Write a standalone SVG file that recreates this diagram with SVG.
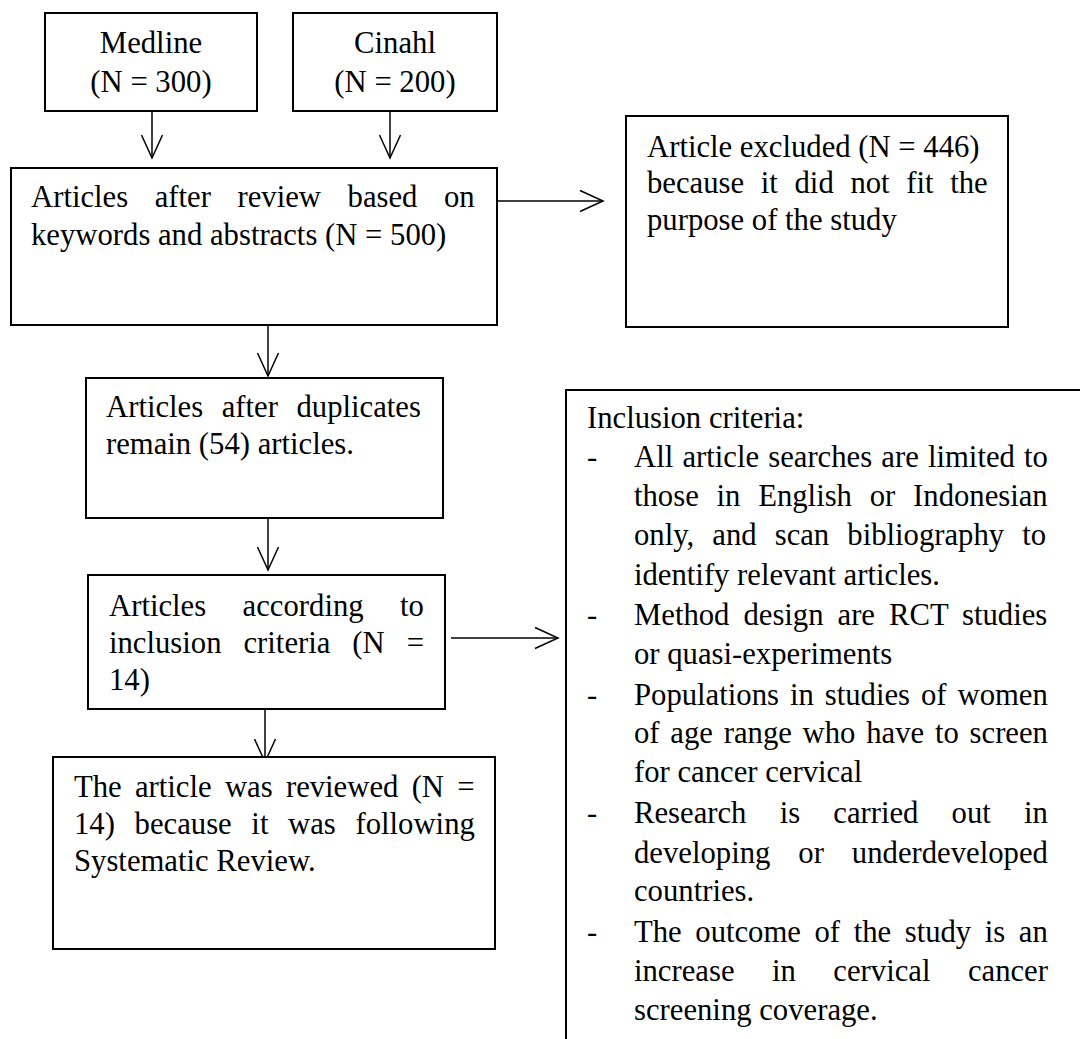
<svg xmlns="http://www.w3.org/2000/svg" width="1080" height="1039" viewBox="0 0 1080 1039">
<style>
.box{fill:#fff;stroke:#000;stroke-width:2}
.edge{fill:none;stroke:#000;stroke-width:1.5}
text{font-family:"Liberation Serif","Times New Roman",serif;font-size:30.7px;fill:#000}
.c{text-anchor:middle}
</style>
<defs>
<marker id="arr" markerUnits="userSpaceOnUse" markerWidth="26" markerHeight="26" refX="23" refY="11" orient="auto" overflow="visible">
<path d="M0,0.5 L23,11 L0,21.5" fill="none" stroke="#000" stroke-width="1.5"/>
</marker>
</defs>
<rect width="1080" height="1039" fill="#fff"/>
<g id="connectors">
<line class="edge" x1="152" y1="111" x2="152" y2="158" marker-end="url(#arr)"/>
<line class="edge" x1="390" y1="111" x2="390" y2="158" marker-end="url(#arr)"/>
<line class="edge" x1="497" y1="201" x2="603" y2="201" marker-end="url(#arr)"/>
<line class="edge" x1="268" y1="325" x2="268" y2="376" marker-end="url(#arr)"/>
<line class="edge" x1="268" y1="518" x2="268" y2="570" marker-end="url(#arr)"/>
<line class="edge" x1="451" y1="638" x2="558" y2="638" marker-end="url(#arr)"/>
<line class="edge" x1="265" y1="709" x2="265" y2="762" marker-end="url(#arr)"/>
</g>
<g id="medline">
<rect class="box" x="45" y="13" width="212" height="98"/>
<text class="c" x="151" y="53">Medline</text>
<text class="c" x="151" y="92">(N = 300)</text>
</g>
<g id="cinahl">
<rect class="box" x="293" y="13" width="204" height="98"/>
<text class="c" x="395" y="53">Cinahl</text>
<text class="c" x="395" y="92">(N = 200)</text>
</g>
<g id="review">
<rect class="box" x="11" y="168" width="486" height="157"/>
<text x="31" y="207" word-spacing="18.9">Articles after review based on</text>
<text x="31" y="245">keywords and abstracts (N = 500)</text>
</g>
<g id="excluded">
<rect class="box" x="626" y="116" width="382" height="211"/>
<text x="647" y="157">Article excluded (N = 446)</text>
<text x="647" y="193" word-spacing="9">because it did not fit the</text>
<text x="647" y="230">purpose of the study</text>
</g>
<g id="duplicates">
<rect class="box" x="86" y="378" width="357" height="140"/>
<text x="106" y="417" word-spacing="10.9">Articles after duplicates</text>
<text x="106" y="454">remain (54) articles.</text>
</g>
<g id="inclusion">
<rect class="box" x="88" y="575" width="357" height="134"/>
<text x="109" y="616" word-spacing="28.8">Articles according to</text>
<text x="109" y="653" word-spacing="14.3">inclusion criteria (N =</text>
<text x="109" y="690">14)</text>
</g>
<g id="reviewed">
<rect class="box" x="53" y="757" width="442" height="192"/>
<text x="74" y="797" word-spacing="5.6">The article was reviewed (N =</text>
<text x="74" y="834" word-spacing="12">14) because it was following</text>
<text x="74" y="871">Systematic Review.</text>
</g>
<g id="criteria">
<path d="M566,1039 V390 H1080" fill="none" stroke="#000" stroke-width="2"/>
<text x="587" y="428">Inclusion criteria:</text>
<text x="587" y="467">-</text>
<text x="634" y="467" word-spacing="1.5">All article searches are limited to</text>
<text x="634" y="506" word-spacing="10.1">those in English or Indonesian</text>
<text x="634" y="545" word-spacing="10.4">only, and scan bibliography to</text>
<text x="634" y="585">identify relevant articles.</text>
<text x="587" y="625">-</text>
<text x="634" y="625" word-spacing="6.3">Method design are RCT studies</text>
<text x="634" y="664">or quasi-experiments</text>
<text x="587" y="705">-</text>
<text x="634" y="705" word-spacing="3.3">Populations in studies of women</text>
<text x="634" y="743" word-spacing="3.1">of age range who have to screen</text>
<text x="634" y="782">for cancer cervical</text>
<text x="587" y="823">-</text>
<text x="634" y="823" word-spacing="25.5">Research is carried out in</text>
<text x="634" y="863" word-spacing="20.3">developing or underdeveloped</text>
<text x="634" y="901">countries.</text>
<text x="587" y="942">-</text>
<text x="634" y="942" word-spacing="5.9">The outcome of the study is an</text>
<text x="634" y="981" word-spacing="29.8">increase in cervical cancer</text>
<text x="634" y="1020">screening coverage.</text>
</g>
</svg>
